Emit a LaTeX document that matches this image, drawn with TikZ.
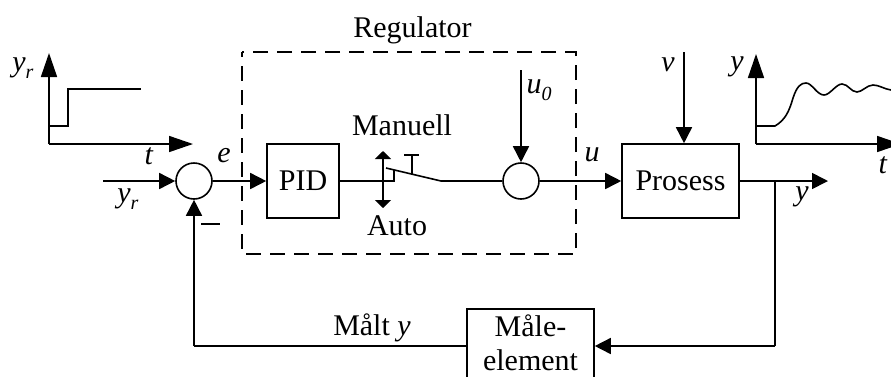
\documentclass[tikz,border=0pt]{standalone}
\usepackage{fontspec}
\setmainfont{Liberation Serif}
\usepackage{tikz}
\usetikzlibrary{positioning,shapes,arrows.meta}
\newcommand{\lowsub}[2]{\textit{#1}\raisebox{-7pt}{\fontsize{20}{20}\selectfont\textit{#2}}}
\tikzset{
    blockbox/.style={draw,line width=1.6pt,inner sep=0pt,align=center,font=\fontsize{30}{34}\selectfont},
    sumcirc/.style={draw,circle,line width=1.6pt,inner sep=0pt,minimum size=36pt},
    lbl/.style={inner sep=0pt,align=center,font=\fontsize{30}{34}\selectfont},
    wire/.style={line width=1.6pt},
    sig/.style={line width=1.6pt,-{Triangle[length=16pt,width=16pt]}},
    axis/.style={line width=1.6pt,-{Triangle[length=24pt,width=16pt]}},
    toggle/.style={line width=1.6pt,{Triangle[length=8pt,width=16pt]}-{Triangle[length=8pt,width=16pt]}},
}
\begin{document}
\begin{tikzpicture}[x=1pt,y=-1pt]
    \useasboundingbox (0,0) rectangle (891,376);
    \clip (0,0) rectangle (891,376);
    % regulator frame
    \draw[line width=1.6pt,dash pattern=on 15pt off 9pt,dash phase=10pt] (242,52) rectangle (576,254);
    \node[lbl] (regLbl) at (412.5,30) {Regulator};
    % blocks
    \node[sumcirc] (sumE) at (194,181) {};
    \node[blockbox,minimum width=72pt,minimum height=74pt] (pid) at (303,181) {PID};
    \node[sumcirc] (sumU) at (521,181) {};
    \node[blockbox,minimum width=117pt,minimum height=74pt] (prosess) at (680.5,181) {Prosess};
    \node[blockbox,minimum width=127pt,minimum height=74pt] (maal) at (530.5,346) {};
    \node[lbl] (maalTxt) at (530.5,343) {Måle-\\element};
    % free ends
    \coordinate (yrIn) at (103,181);
    \coordinate (u0In) at (521,70);
    \coordinate (vIn) at (684,52);
    \coordinate (yOut) at (828,181);
    \coordinate (tap) at (775,181);
    \coordinate (tapLow) at (775,346);
    \coordinate (backCorner) at (194,346);
    \coordinate (swIn) at (394,181);
    \coordinate (swUp) at (394,170);
    \coordinate (swA) at (386,168);
    \coordinate (swB) at (441,181);
    % main loop
    \draw[sig] (yrIn) -- (sumE);
    \draw[sig] (sumE) -- (pid);
    \draw[wire] (pid) -- (swIn) -- (swUp);
    \draw[wire] (swA) -- (swB);
    \draw[wire] (swB) -- (sumU);
    \draw[sig] (u0In) -- (sumU);
    \draw[sig] (sumU) -- (prosess);
    \draw[sig] (vIn) -- (vIn |- prosess.north);
    \draw[sig] (prosess) -- (yOut);
    \draw[wire] (tap) -- (tapLow);
    \draw[sig] (tapLow) -- (maal);
    \draw[wire] (maal) -- (backCorner);
    \draw[sig] (backCorner) -- (sumE);
    % minus sign
    \coordinate (minusA) at (201,224);
    \coordinate (minusB) at (220,224);
    \draw[wire] (minusA) -- (minusB);
    % switch
    \coordinate (togTop) at (383,151);
    \coordinate (togLow) at (383,208);
    \draw[toggle] (togTop) -- (togLow);
    \coordinate (knobA) at (404,155);
    \coordinate (knobB) at (419,155);
    \coordinate (knobC) at (412,155);
    \coordinate (knobD) at (412,175);
    \draw[wire] (knobA) -- (knobB);
    \draw[wire] (knobC) -- (knobD);
    % setpoint plot
    \coordinate (orgA) at (49,144);
    \coordinate (orgAy) at (49,53);
    \coordinate (orgAx) at (193,144);
    \draw[axis] (orgA) -- (orgAy);
    \draw[axis] (orgA) -- (orgAx);
    \draw[wire] (49,126) -- (68,126) -- (68,89) -- (141,89);
    % response plot
    \coordinate (orgB) at (756,144);
    \coordinate (orgBy) at (756,54);
    \coordinate (orgBx) at (901,144);
    \draw[axis] (orgB) -- (orgBy);
    \draw[axis] (orgB) -- (orgBx);
    \draw[wire] (756,126) -- (775,126)
        .. controls (785,120) and (789,112) .. (793,98)
        .. controls (797,86) and (801,83) .. (806,83)
        .. controls (812,83) and (817,95) .. (824,95)
        .. controls (830,95) and (836,84) .. (842,84)
        .. controls (848,84) and (851,92) .. (857,92)
        .. controls (862,92) and (867,85) .. (873,85)
        .. controls (879,85) and (884,89) .. (891,90);
    % labels
    \node[lbl] (yrTop) at (23,68) {\lowsub{y}{r}};
    \node[lbl] (tA) at (149,156) {\textit{t}};
    \node[lbl] (eLbl) at (224,156) {\textit{e}};
    \node[lbl] (yrLow) at (128,199) {\lowsub{y}{r}};
    \node[lbl] (manLbl) at (402,125) {Manuell};
    \node[lbl] (autoLbl) at (397,226) {Auto};
    \node[lbl] (u0Lbl) at (539,90) {\lowsub{u}{0}};
    \node[lbl] (uLbl) at (592,155) {\textit{u}};
    \node[lbl] (vLbl) at (668,65) {\textit{v}};
    \node[lbl] (yTop) at (737,67) {\textit{y}};
    \node[lbl] (tB) at (883,165) {\textit{t}};
    \node[lbl] (yOutLbl) at (802,197) {\textit{y}};
    \node[lbl] (maaltLbl) at (372,328) {Målt \textit{y}};
\end{tikzpicture}
\end{document}
